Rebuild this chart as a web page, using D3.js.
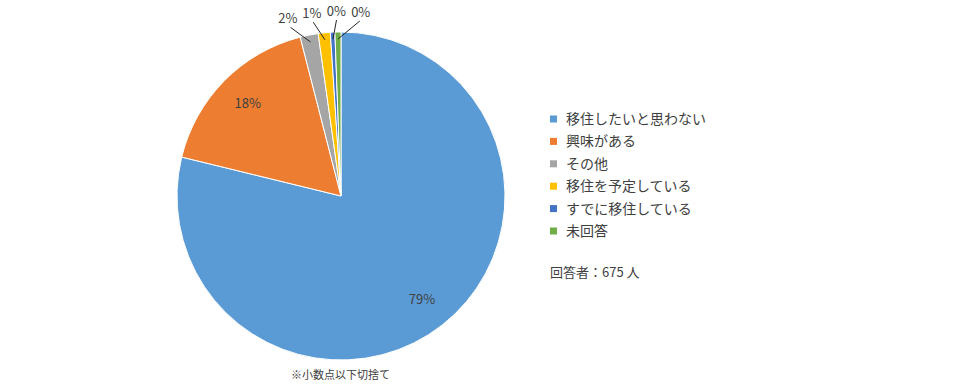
<!DOCTYPE html>
<html>
<head>
<meta charset="utf-8">
<script src="https://cdn.jsdelivr.net/npm/d3@7/dist/d3.min.js"></script>
<style>
    body { margin: 0; background: #fff; }
    text { font-family: "Noto Sans CJK JP", "Noto Sans", sans-serif; fill: #404040; }
</style>
</head>
<body>
<div id="chart"></div>
<script>
// Data (respondent counts, labels as printed)
var categories = ["移住したいと思わない", "興味がある", "その他", "移住を予定している", "すでに移住している", "未回答"];
var counts = [532, 116, 12, 8, 3, 4];
var percentLabels = ["79%", "18%", "2%", "1%", "0%", "0%"];
var colors = ["#5B9BD5", "#ED7D31", "#A5A5A5", "#FFC000", "#4472C4", "#70AD47"];
var respondentsLabel = "回答者：675 人";
var footnote = "※小数点以下切捨て";

var width = 980;
var height = 390;
var cx = 341, cy = 196, radius = 164;

var svg = d3.select("#chart").append("svg")
    .attr("width", width)
    .attr("height", height);

var g = svg.append("g")
    .attr("transform", "translate(" + cx + "," + cy + ")");

var data = categories.map(function(c, i) {
    return {name: c, value: counts[i], label: percentLabels[i], color: colors[i]};
});

var pie = d3.pie()
    .sort(null)
    .value(function(d) { return d.value; });

var arcs = pie(data);

var arc = d3.arc().innerRadius(0).outerRadius(radius);
var labelArc = d3.arc().innerRadius(radius * 0.8).outerRadius(radius * 0.8);

//Slices
g.selectAll("path.slice")
    .data(arcs)
    .enter()
    .append("path")
    .attr("class", "slice")
    .attr("d", arc)
    .style("fill", function(d) { return d.data.color; })
    .style("stroke", "#fff")
    .style("stroke-width", 1);

//Labels inside big slices
var big = arcs.filter(function(d) { return (d.endAngle - d.startAngle) > 0.3; });
var small = arcs.filter(function(d) { return (d.endAngle - d.startAngle) <= 0.3; });

g.selectAll("text.inner")
    .data(big)
    .enter()
    .append("text")
    .attr("class", "inner")
    .attr("transform", function(d) { return "translate(" + labelArc.centroid(d) + ")"; })
    .attr("text-anchor", "middle")
    .attr("dy", "0.35em")
    .style("font-size", "13px")
    .text(function(d) { return d.data.label; });

//Small slices: spread labels above the pie with leader lines
var mids = small.map(function(d) {
    var a = (d.startAngle + d.endAngle) / 2;
    return a > Math.PI ? a - 2 * Math.PI : a;
});
var meanMid = d3.mean(mids);
var gap = 7.6 * Math.PI / 180;

function polar(a, r) {
    return [Math.sin(a) * r, -Math.cos(a) * r];
}

small.forEach(function(d, i) {
    var la = meanMid + (i - (small.length - 1) / 2) * gap;
    var p = polar(la, 185);
    var s = polar(la, 176);
    var e = polar(mids[i], 157);
    g.append("line")
        .attr("x1", s[0]).attr("y1", s[1])
        .attr("x2", e[0]).attr("y2", e[1])
        .style("stroke", "#262626")
        .style("stroke-width", 1);
    g.append("text")
        .attr("x", p[0])
        .attr("y", p[1])
        .attr("text-anchor", "middle")
        .attr("dy", "0.35em")
        .style("font-size", "13px")
        .text(d.data.label);
});

//Legend
var legend = svg.append("g")
    .attr("transform", "translate(550,119)");

var rows = legend.selectAll("g.row")
    .data(data)
    .enter()
    .append("g")
    .attr("class", "row")
    .attr("transform", function(d, i) { return "translate(0," + (i * 22.4) + ")"; });

rows.append("rect")
    .attr("x", 0)
    .attr("y", -3.5)
    .attr("width", 7)
    .attr("height", 7)
    .style("fill", function(d) { return d.color; });

rows.append("text")
    .attr("x", 16)
    .attr("dy", "0.35em")
    .style("font-size", "14px")
    .text(function(d) { return d.name; });

legend.append("text")
    .attr("x", 0)
    .attr("y", 153)
    .attr("dy", "0.35em")
    .style("font-size", "13px")
    .text(respondentsLabel);

//Footnote
svg.append("text")
    .attr("x", 291)
    .attr("y", 375)
    .attr("dy", "0.35em")
    .style("font-size", "11px")
    .text(footnote);
</script>
</body>
</html>
